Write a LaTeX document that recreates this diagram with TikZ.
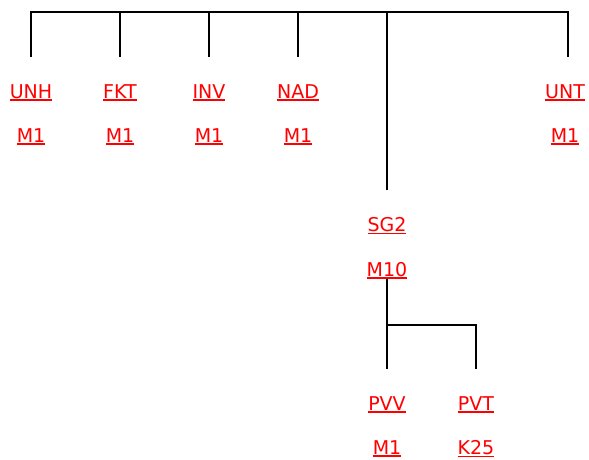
\documentclass[tikz,border=0pt]{standalone}
\usepackage{fontspec}
\setmainfont{DejaVu Sans}
\newcommand\redul[1]{\vtop{\hbox{#1}\kern0.8pt\hrule height 1.8pt}}
\begin{document}
\begin{tikzpicture}[x=1pt,y=-1pt,
  lbl/.style={anchor=base,inner sep=0pt,text=red,font=\fontsize{19}{19}\selectfont},
  conn/.style={draw=black,line width=2pt,line join=miter}]
\useasboundingbox (0,0) rectangle (589,459);
% labels
\node[lbl] (unh) at (31,98) {\redul{UNH}};
\node[lbl] (unhm) at (31,142) {\redul{M1}};
\node[lbl] (fkt) at (120,98) {\redul{FKT}};
\node[lbl] (fktm) at (120,142) {\redul{M1}};
\node[lbl] (inv) at (209,98) {\redul{INV}};
\node[lbl] (invm) at (209,142) {\redul{M1}};
\node[lbl] (nad) at (298,98) {\redul{NAD}};
\node[lbl] (nadm) at (298,142) {\redul{M1}};
\node[lbl] (unt) at (565,98) {\redul{UNT}};
\node[lbl] (untm) at (565,142) {\redul{M1}};
\node[lbl] (sg) at (387,231.5) {\redul{SG2}};
\node[lbl] (sgm) at (387,276) {\redul{M10}};
\node[lbl] (pvv) at (387,410.5) {\redul{PVV}};
\node[lbl] (pvvm) at (387,454.5) {\redul{M1}};
\node[lbl] (pvt) at (476,410.5) {\redul{PVT}};
\node[lbl] (pvtm) at (476,454.5) {\redul{K25}};
% connector end points
\coordinate (e1) at (31,57);
\coordinate (e2) at (120,57);
\coordinate (e3) at (209,57);
\coordinate (e4) at (298,57);
\coordinate (e5) at (387,190);
\coordinate (e6) at (568,57);
\coordinate (r1) at (31,12);
\coordinate (r6) at (568,12);
\coordinate (s0) at (387,279);
\coordinate (s1) at (387,369);
\coordinate (s2) at (476,369);
\coordinate (sj) at (387,325);
% top bracket
\draw[conn] (e1) -- (r1) -- (r6) -- (e6);
\draw[conn] (e2) -- (e2 |- r1);
\draw[conn] (e3) -- (e3 |- r1);
\draw[conn] (e4) -- (e4 |- r1);
\draw[conn] (e5) -- (e5 |- r1);
% lower bracket
\draw[conn] (s0) -- (s1);
\draw[conn] (sj) -| (s2);
\end{tikzpicture}
\end{document}
